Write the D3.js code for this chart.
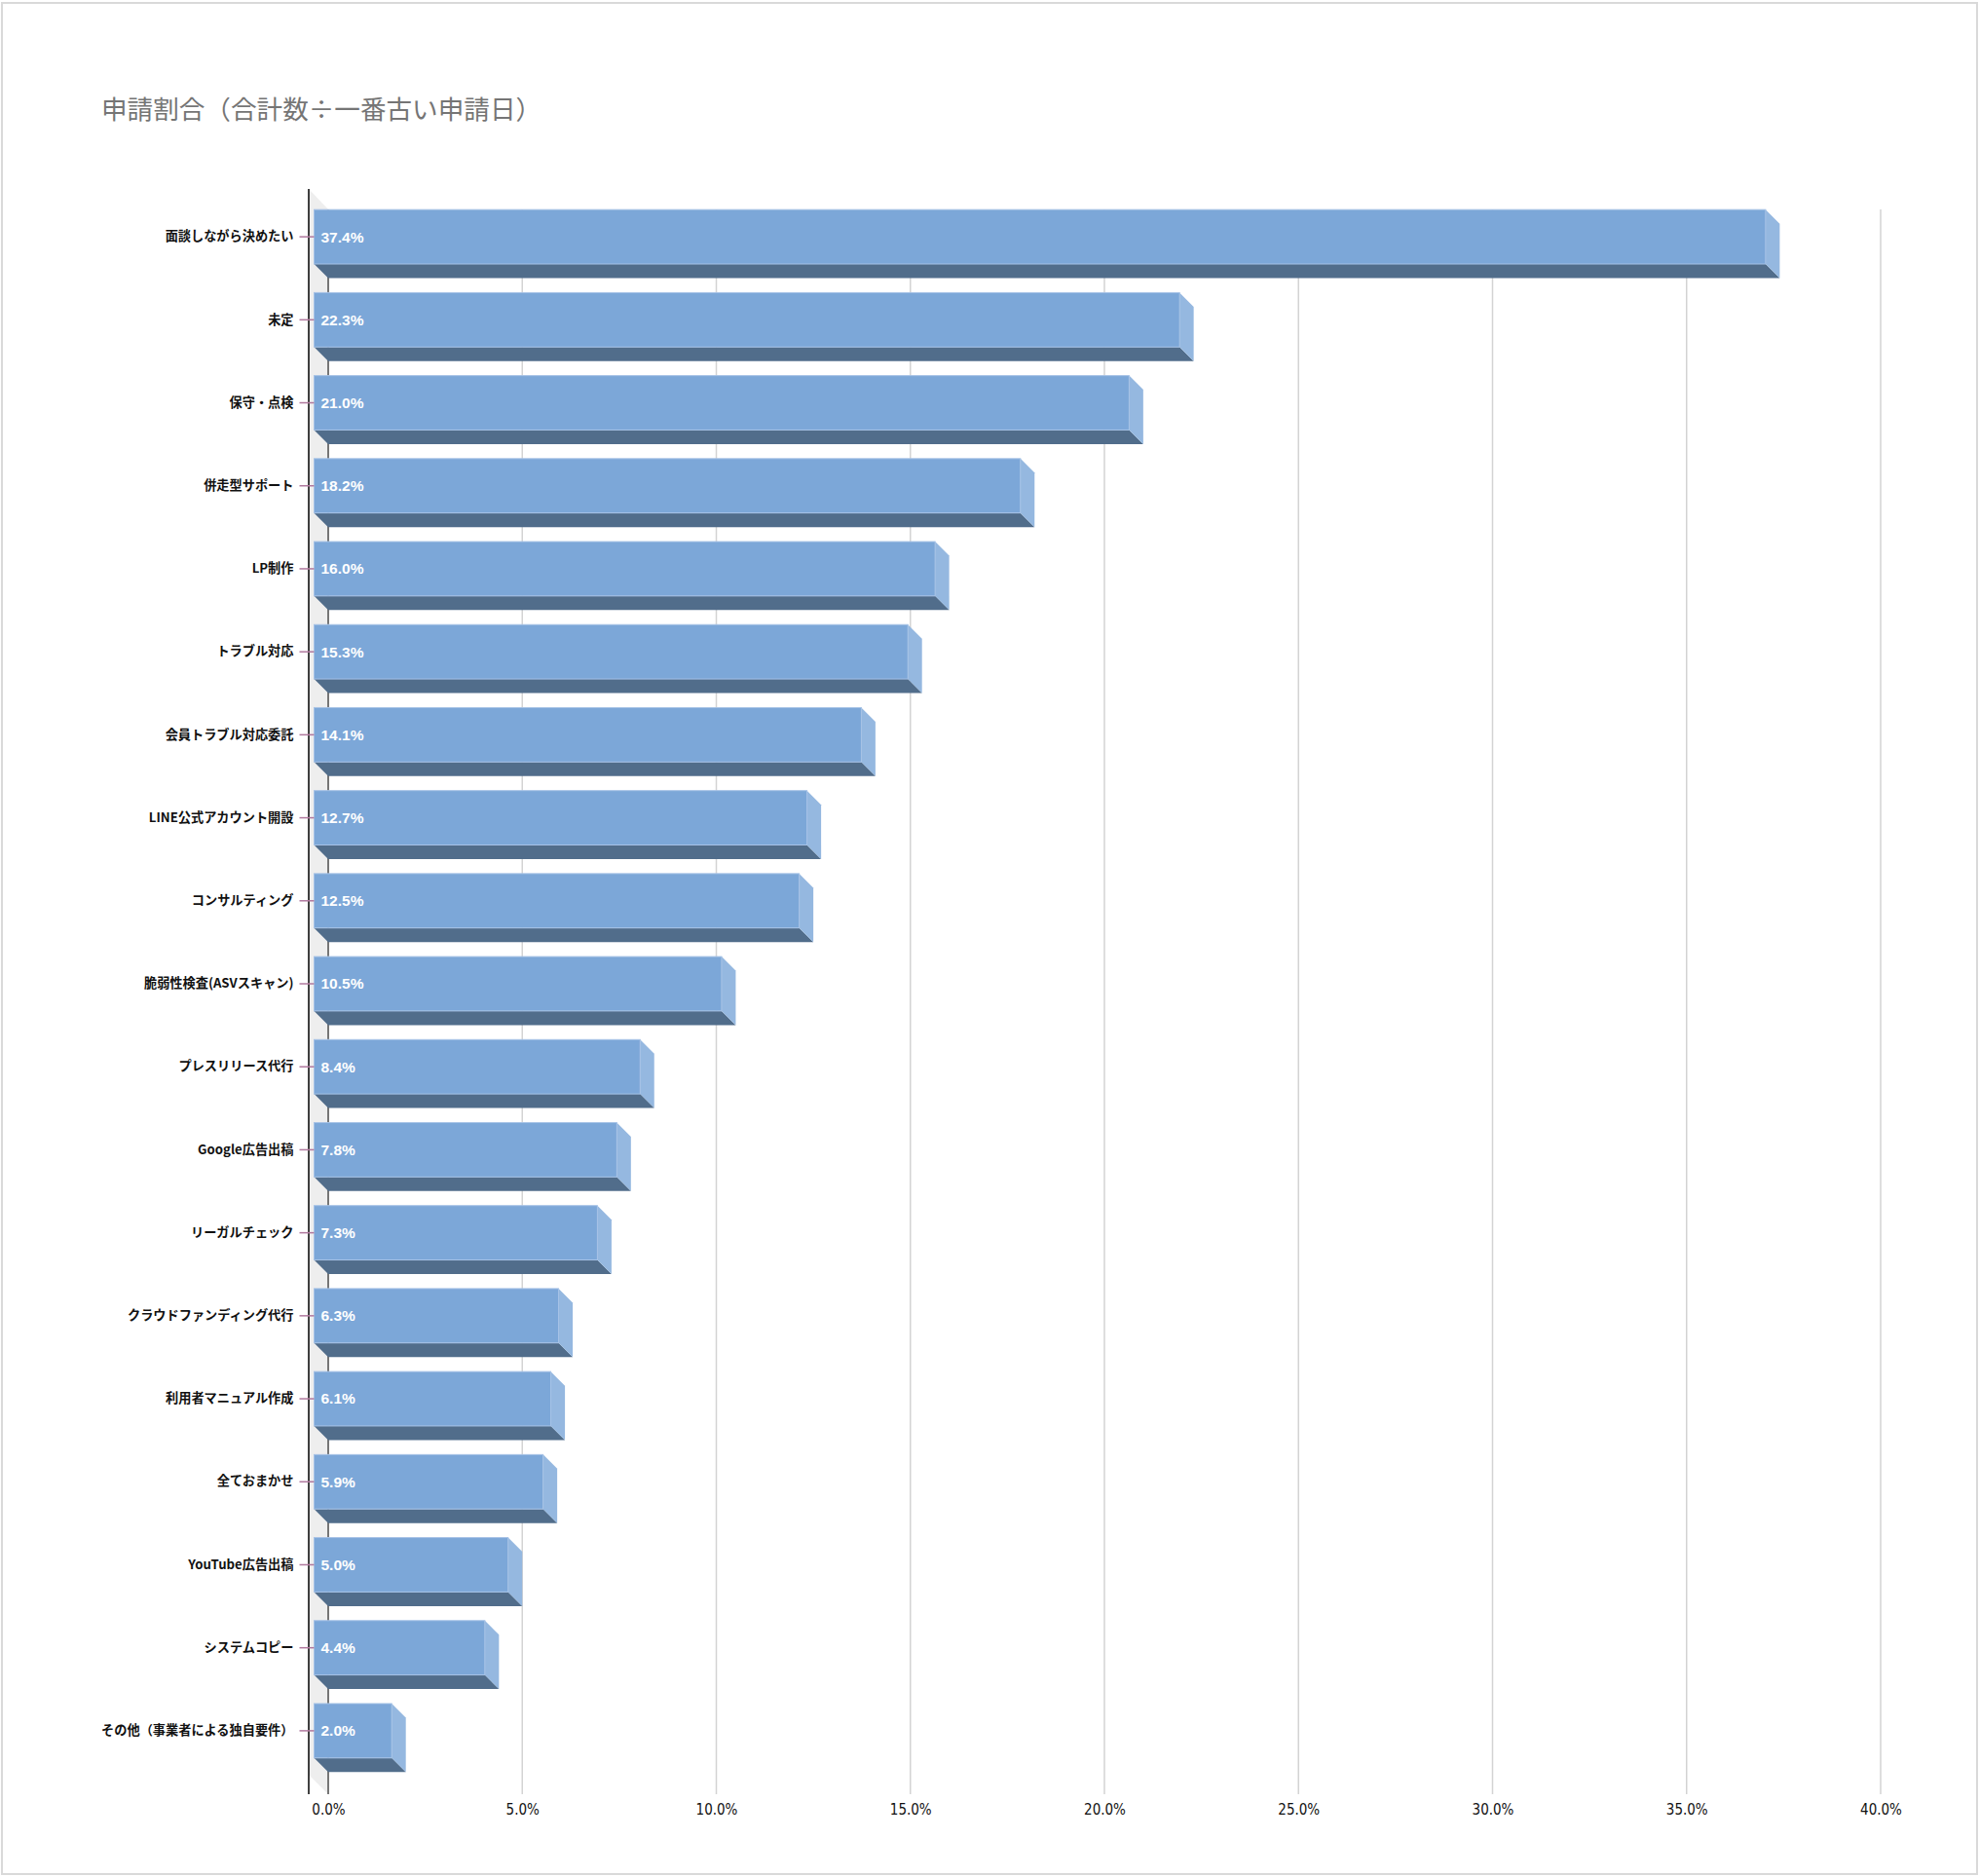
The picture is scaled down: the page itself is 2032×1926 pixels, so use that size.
<!DOCTYPE html>
<html>
<head>
<meta charset="utf-8">
<script src="https://cdn.jsdelivr.net/npm/d3@7"></script>
<style>
    body { margin: 0; background: #fff; }
    svg { display: block; }
</style>
</head>
<body>
<div id="chart"></div>
<script>
// 申請割合 - 3D horizontal bar chart

const categories = [
    '面談しながら決めたい', '未定', '保守・点検', '併走型サポート', 'LP制作',
    'トラブル対応', '会員トラブル対応委託', 'LINE公式アカウント開設', 'コンサルティング',
    '脆弱性検査(ASVスキャン)', 'プレスリリース代行', 'Google広告出稿', 'リーガルチェック',
    'クラウドファンディング代行', '利用者マニュアル作成', '全ておまかせ', 'YouTube広告出稿',
    'システムコピー', 'その他（事業者による独自要件）'
];
const values = [37.4, 22.3, 21.0, 18.2, 16.0, 15.3, 14.1, 12.7, 12.5, 10.5, 8.4, 7.8, 7.3, 6.3, 6.1, 5.9, 5.0, 4.4, 2.0];
const xTicks = [0, 5, 10, 15, 20, 25, 30, 35, 40];
const title = '申請割合（合計数÷一番古い申請日）';

const config = {
    width: 2032,
    height: 1926,
    colors: {
        front: '#7ca7d8',
        frontEdge: '#a6c2e6',
        side: '#95b8e0',
        bottom: '#516d8b',
        wall: '#eeeeee',
        grid: '#d3d3d3',
        baseline: '#767676',
        tick: '#b0789e',
        title: '#757575'
    },
    depth: 14.5,
    wallDepth: 20
};

const svg = d3.select('#chart').append('svg')
    .attr('width', config.width)
    .attr('height', config.height);

// outer frame
svg.append('rect')
    .attr('x', 2).attr('y', 3)
    .attr('width', 2028).attr('height', 1921)
    .attr('fill', '#fff')
    .attr('stroke', '#d9d9d9')
    .attr('stroke-width', 2);

svg.append('text')
    .attr('x', 104)
    .attr('y', 122)
    .style('font-family', '"Noto Sans CJK JP", sans-serif')
    .style('font-size', '26.6px')
    .style('fill', config.colors.title)
    .text(title);

// scales: x/y on the back plane, yFront shifted by the bar depth
const x = d3.scaleLinear().domain([0, 40]).range([337, 1931]);
const y = d3.scaleBand().domain(categories).range([215, 1834])
    .paddingInner(0.345).paddingOuter(0.1725);
const yFront = y.copy().range([215 - config.depth, 1834 - config.depth]);

const plotTop = 215, plotBottom = 1842;
const axisX = x(0) - config.wallDepth;

// gridlines
svg.append('g')
    .selectAll('line')
    .data(xTicks)
    .enter()
    .append('line')
    .attr('x1', d => x(d)).attr('x2', d => x(d))
    .attr('y1', plotTop).attr('y2', plotBottom)
    .attr('stroke', d => d === 0 ? config.colors.baseline : config.colors.grid)
    .attr('stroke-width', d => d === 0 ? 2 : 1.5);

// left wall
const wd = config.wallDepth;
svg.append('polygon')
    .attr('points', [
        [axisX, plotTop - wd - 1], [x(0), plotTop],
        [x(0), plotBottom], [axisX, plotBottom - wd]
    ].join(' '))
    .attr('fill', config.colors.wall);

// re-draw baseline over wall
svg.append('line')
    .attr('x1', x(0)).attr('x2', x(0))
    .attr('y1', plotTop).attr('y2', plotBottom)
    .attr('stroke', config.colors.baseline)
    .attr('stroke-width', 2);

// front axis line
svg.append('line')
    .attr('x1', axisX).attr('x2', axisX)
    .attr('y1', plotTop - wd - 1).attr('y2', plotBottom)
    .attr('stroke', '#000')
    .attr('stroke-width', 1.5);

// bars
const d = config.depth;
const h = y.bandwidth();
const bars = svg.append('g')
    .selectAll('g')
    .data(categories.map((c, i) => ({ c, v: values[i] })))
    .enter()
    .append('g');

bars.append('polygon')
    .attr('fill', config.colors.bottom)
    .attr('points', r => {
        const x0 = x(0) - d, x1 = x(r.v) - d, yt = yFront(r.c) + h;
        return [[x0, yt], [x1, yt], [x1 + d, yt + d], [x0 + d, yt + d]].join(' ');
    });

bars.append('polygon')
    .attr('fill', config.colors.side)
    .attr('points', r => {
        const x1 = x(r.v) - d, yt = yFront(r.c);
        return [[x1, yt], [x1 + d, yt + d], [x1 + d, yt + h + d], [x1, yt + h]].join(' ');
    });

bars.append('rect')
    .attr('x', x(0) - d)
    .attr('y', r => yFront(r.c))
    .attr('width', r => x(r.v) - x(0))
    .attr('height', h)
    .attr('fill', config.colors.front)
    .attr('stroke', config.colors.frontEdge)
    .attr('stroke-width', 1);

bars.append('text')
    .attr('x', x(0) - d + 7)
    .attr('y', r => yFront(r.c) + h / 2)
    .attr('dy', '0.35em')
    .style('font-family', '"Liberation Sans", Arial, sans-serif')
    .style('font-weight', 'bold')
    .style('font-size', '15.5px')
    .style('fill', '#fff')
    .text(r => r.v.toFixed(1) + '%');

// category axis
const yAxis = svg.append('g')
    .attr('transform', `translate(${x(0) - d},0)`)
    .call(d3.axisLeft(yFront).tickSize(15).tickPadding(6));
yAxis.select('.domain').remove();
yAxis.selectAll('.tick line')
    .attr('stroke', config.colors.tick)
    .attr('stroke-width', 1.5);
yAxis.selectAll('.tick text')
    .style('font-family', '"Noto Sans CJK JP", sans-serif')
    .style('font-weight', 'bold')
    .style('font-size', '13.2px')
    .style('fill', '#111');

// value axis
const xAxis = svg.append('g')
    .attr('transform', `translate(0,${plotBottom})`)
    .call(d3.axisBottom(x).tickValues(xTicks)
        .tickFormat(t => t.toFixed(1) + '%')
        .tickSize(0).tickPadding(10));
xAxis.select('.domain').remove();
xAxis.selectAll('.tick text')
    .style('font-family', '"Liberation Sans Narrow", "DejaVu Sans Condensed", sans-serif')
    .style('font-size', '15px')
    .style('fill', '#111');
</script>
</body>
</html>
